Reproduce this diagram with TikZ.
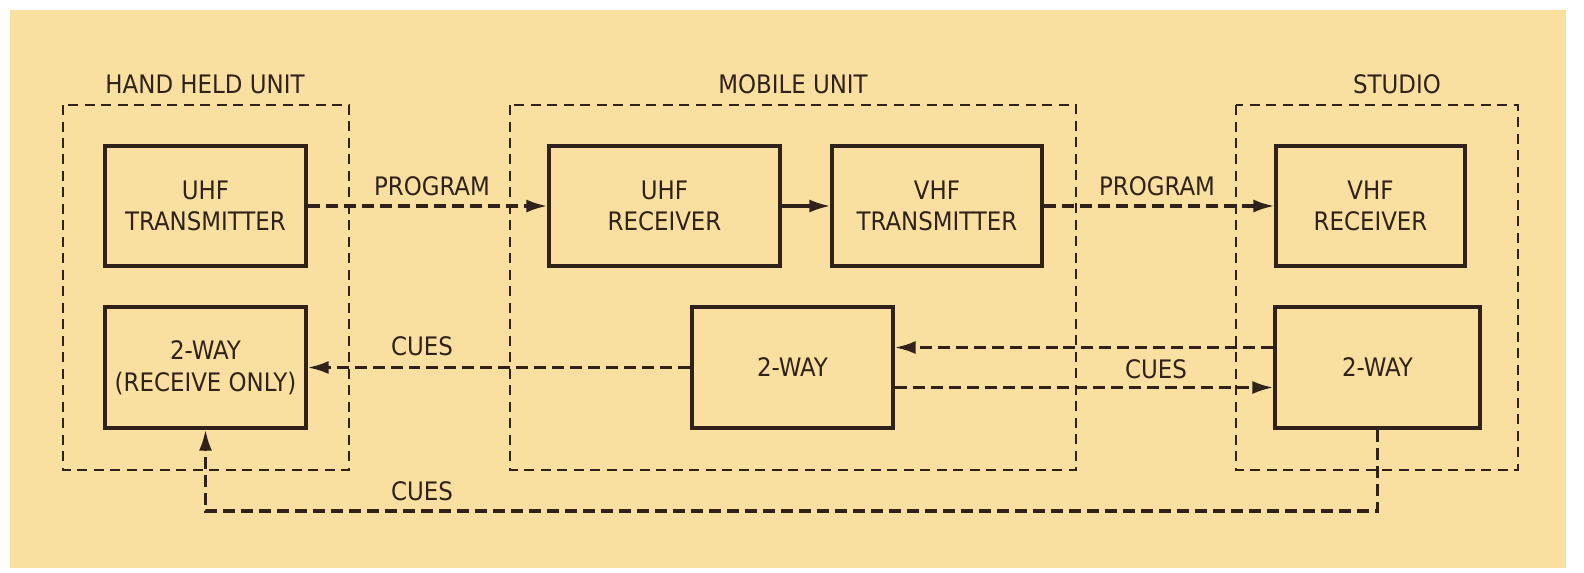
\documentclass[tikz,border=0pt]{standalone}
\usepackage{fontspec}
\setmainfont{DejaVu Sans Condensed}
\usetikzlibrary{arrows.meta}
\definecolor{paper}{RGB}{250,224,160}
\definecolor{ink}{RGB}{48,34,26}

\begin{document}
\begin{tikzpicture}[x=0.02cm, y=-0.02cm,
  unitbox/.style={draw=ink, line width=1.8pt, inner sep=0pt, align=center,
    minimum height=2.4cm, text=ink, font=\fontsize{14.5}{18}\selectfont},
  groupbox/.style={draw=ink, line width=1.1pt, dash pattern=on 0.2cm off 0.13cm},
  link/.style={draw=ink, line width=1.8pt, dash pattern=on 0.24cm off 0.12cm},
  tip/.style={-{Latex[length=0.42cm, width=0.26cm]}},
  tag/.style={text=ink, font=\fontsize{14.5}{17}\selectfont}]

  % paper
  \fill[white] (0,0) rectangle (1584,572);
  \fill[paper] (10,10) rectangle (1566,568);
  \useasboundingbox (0,0) rectangle (1584,572);

  % group outlines and titles
  \draw[groupbox] (63,105) rectangle (349,470);
  \node[tag] (handtitle) at (205,84) {HAND HELD UNIT};
  \draw[groupbox] (510,105) rectangle (1076,470);
  \node[tag] (mobiletitle) at (793,84) {MOBILE UNIT};
  \draw[groupbox] (1236,105) rectangle (1518,470);
  \node[tag] (studiotitle) at (1397,84) {STUDIO};

  % hand held unit
  \node[unitbox, minimum width=4.02cm] (uhftx) at (205.5,206) {UHF\\TRANSMITTER};
  \node[unitbox, minimum width=4.02cm, minimum height=2.42cm] (rxonly) at (205.5,367.5) {2-WAY\\(RECEIVE ONLY)};

  % mobile unit
  \node[unitbox, minimum width=4.62cm] (uhfrx) at (664.5,206) {UHF\\RECEIVER};
  \node[unitbox, minimum width=4.2cm] (vhftx) at (937,206) {VHF\\TRANSMITTER};
  \node[unitbox, minimum width=4.02cm, minimum height=2.42cm] (mobway) at (792.5,367.5) {2-WAY};

  % studio
  \node[unitbox, minimum width=3.78cm] (vhfrx) at (1370.5,206) {VHF\\RECEIVER};
  \node[unitbox, minimum width=4.1cm, minimum height=2.42cm] (stuway) at (1377.5,367.5) {2-WAY};

  % program path
  \draw[link, tip] (uhftx.east) -- (uhfrx.west);
  \node[tag] (prog1) at (432,186) {PROGRAM};
  \draw[ink, line width=1.8pt, tip] (uhfrx.east) -- (vhftx.west);
  \draw[link, tip] (vhftx.east) -- (vhfrx.west);
  \node[tag] (prog2) at (1157,186) {PROGRAM};

  % cue paths
  \draw[link, tip] ([yshift=0.4cm]stuway.west) -- ([yshift=0.4cm]mobway.east);
  \draw[link, tip] ([yshift=-0.4cm]mobway.east) -- ([yshift=-0.4cm]stuway.west);
  \node[tag] (cue2) at (1156,369) {CUES};
  \draw[link, tip] (mobway.west) -- (rxonly.east);
  \node[tag] (cue1) at (422,346) {CUES};
  \coordinate (cuebend) at (0,511);
  \draw[link, tip] (stuway.south) -- (stuway.south |- cuebend) -- (rxonly.south |- cuebend) -- (rxonly.south);
  \node[tag] (cue3) at (422,491) {CUES};
\end{tikzpicture}
\end{document}
